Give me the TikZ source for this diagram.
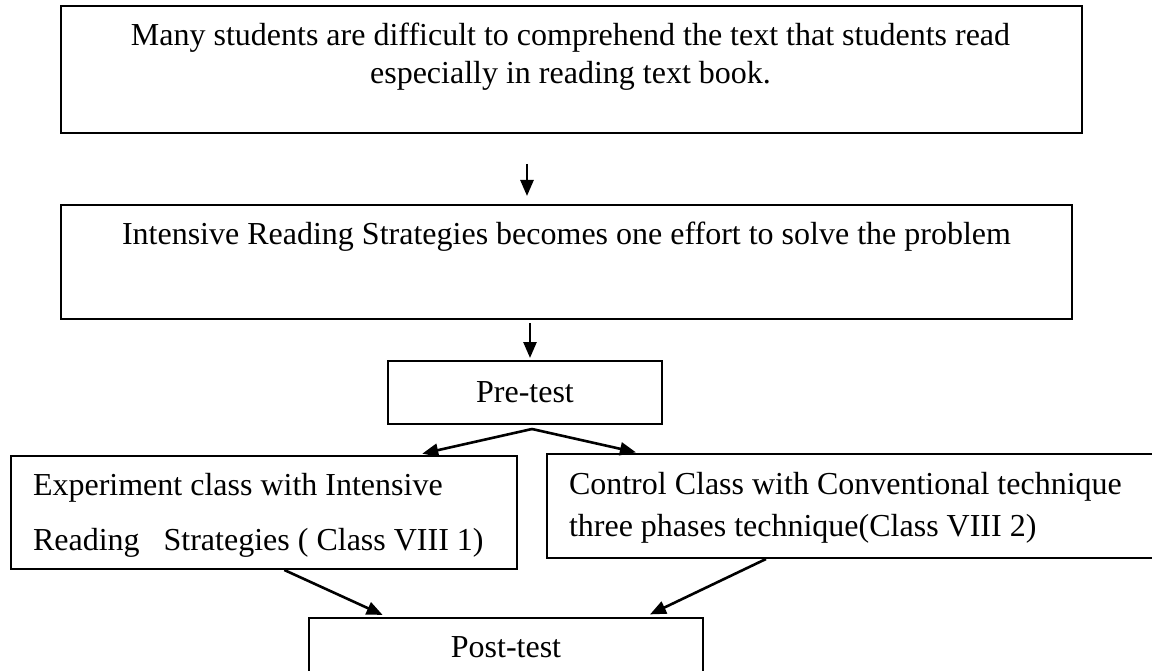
\documentclass[tikz,border=0pt]{standalone}
\usepackage{fontspec}
\setmainfont{Liberation Serif}
\usetikzlibrary{arrows.meta,calc}

\tikzset{every picture/.style={line width=2pt}}
\tikzset{
  box/.style={draw, rectangle, inner sep=0pt},
  txt/.style={inner sep=0pt, font=\fontsize{32}{38}\selectfont},
  arr/.style={line width=2.6pt, -{Triangle[length=16pt,width=13pt]}}
}

\begin{document}
\begin{tikzpicture}[x=1pt,y=1pt,yscale=-1,xscale=1]
\useasboundingbox (0,0) rectangle (1152,671);

%Shape: Rectangle
\node[box, minimum width=1021pt, minimum height=127pt] (prob) at (571.5,69.5) {};
%Shape: Rectangle
\node[box, minimum width=1011pt, minimum height=114pt] (sol) at (566.5,262) {};
%Shape: Rectangle
\node[box, minimum width=274pt, minimum height=63pt] (pre) at (525,392.5) {};
%Shape: Rectangle
\node[box, minimum width=506pt, minimum height=113pt] (exp) at (264,512.5) {};
%Shape: Rectangle
\node[box, minimum width=609pt, minimum height=104pt] (ctl) at (851.5,506) {};
%Shape: Rectangle
\node[box, minimum width=394pt, minimum height=82pt] (post) at (506,659) {};

%Straight Lines
\draw[arr, shorten <=30pt, shorten >=8pt] ($(prob.south -| pre.north)+(2,0)$) -- ($(sol.north -| pre.north)+(2,0)$);
%Straight Lines
\draw[arr, shorten <=3pt, shorten >=2pt] ($(pre.north |- sol.south)+(5,0)$) -- ($(pre.north)+(5,0)$);
%Straight Lines
\draw[arr, shorten >=6pt] ($(pre.south)+(7,4)$) -- ($(exp.north west)!0.8!(exp.north east)$);
%Straight Lines
\draw[arr, shorten >=3pt] ($(pre.south)+(7,4)$) -- ($(ctl.north west)!0.152!(ctl.north east)$);
%Straight Lines
\draw[arr, shorten >=5pt] ($(exp.south west)!0.54!(exp.south east)$) -- ($(post.north west)!0.2!(post.north east)$);
%Straight Lines
\draw[arr, shorten >=6pt] ($(ctl.south west)!0.36!(ctl.south east)$) -- ($(post.north west)!0.85!(post.north east)$);

% Text Node
\node[txt, anchor=base, align=center] (probtxt) at (570.5,84) {Many students are difficult to comprehend the text that students read\\especially in reading text book.};
% Text Node
\node[txt, anchor=base] (soltxt) at (566.5,245) {Intensive Reading Strategies becomes one effort to solve the problem};
% Text Node
\node[txt, anchor=base] (pretxt) at (525,402) {Pre-test};
% Text Node
\node[txt, anchor=base west, align=left, font=\fontsize{32}{55}\selectfont] (exptxt) at (32,550) {Experiment class with Intensive\\Reading\ \ \ Strategies ( Class VIII 1)};
% Text Node
\node[txt, anchor=base west, align=left, font=\fontsize{32}{42}\selectfont] (ctltxt) at (568,536) {Control Class with Conventional technique\\three phases technique(Class VIII 2)};
% Text Node
\node[txt, anchor=base] (posttxt) at (506,657) {Post-test};

\end{tikzpicture}
\end{document}
